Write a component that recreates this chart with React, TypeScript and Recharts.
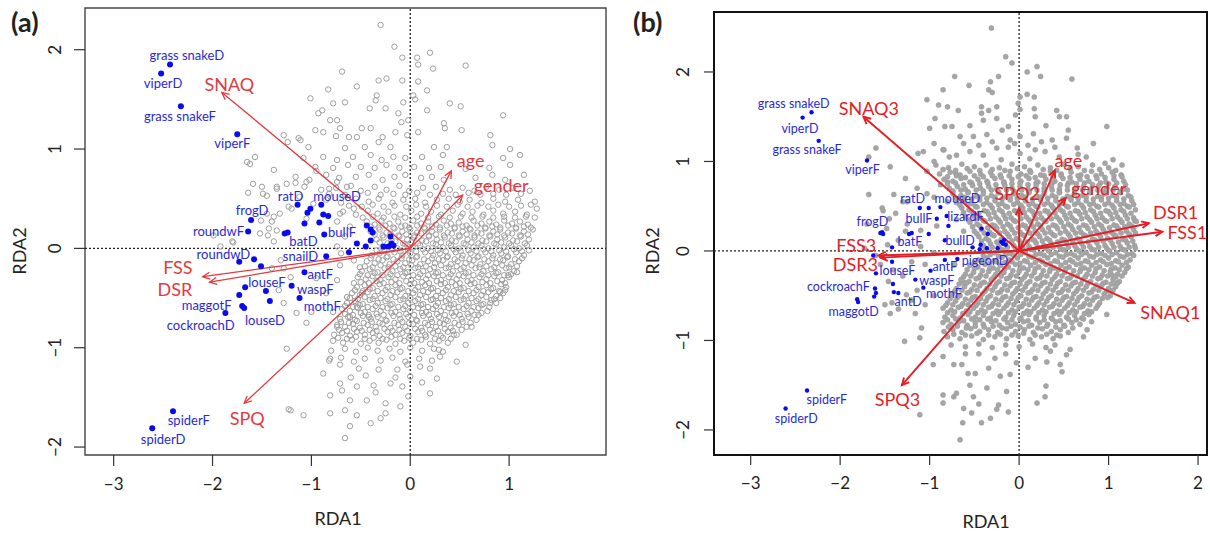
import React from 'react';
import { ScatterChart, Scatter, XAxis, YAxis, ReferenceLine, ReferenceArea } from 'recharts';

const FONT = 'Lato, "Open Sans", sans-serif';

// ---------- shared ----------
const yTicks = [-2, -1, 0, 1, 2];

// ---------- panel (a) ----------
const xTicksA = [-3, -2, -1, 0, 1];

// respondents (grey open circles)
const greyA: [number, number][] = [
  // sparse upper part
  [-0.30,2.25],[-0.16,2.03],[-0.08,1.92],[0.07,1.92],[0.20,1.97],[0.08,1.85],[0.23,1.81],[0.56,1.84],[-0.69,1.78],[-0.54,1.63],
  [-0.32,1.69],[-0.24,1.71],[-0.08,1.69],[0.08,1.68],[-0.83,1.60],[0.17,1.59],[-1.01,1.51],[-0.78,1.46],[-0.66,1.47],[-0.34,1.54],
  [-0.35,1.49],[-0.25,1.41],[-0.41,1.41],[-0.07,1.47],[0.03,1.54],[0.05,1.50],[0.40,1.46],[0.51,1.43],[0.17,1.39],[-0.89,1.39],
  [-0.93,1.36],[0.94,1.34],[-0.12,1.36],[-0.81,1.29],[-0.74,1.29],[-0.09,1.27],[-0.02,1.29],[0.34,1.26],[-0.96,1.19],[-0.88,1.17],
  [-0.71,1.21],[-0.49,1.21],[-0.40,1.21],[-0.28,1.12],[-0.15,1.17],[0.08,1.17],[0.35,1.21],[0.52,1.19],[0.81,1.14],[-0.75,1.13],
  [-0.62,1.12],[-0.54,1.12],[-0.03,1.14],[0.83,1.04],[1.01,1.00],[-1.11,1.09],[-1.03,1.02],[-0.66,1.01],[-0.46,1.02],[-0.32,1.07],
  [-0.20,1.02],[0.24,1.02],[0.37,1.02],
  // left wing
  [-1.24,1.07],[-1.28,1.14],[-1.13,1.11],[-1.57,0.92],[-1.65,0.87],[-1.62,0.85],[-1.38,0.79],[-1.59,0.65],[-1.64,0.56],[-1.49,0.55],
  [-1.45,0.53],[-1.35,0.62],[-1.25,0.65],[-1.16,0.66],[-1.23,0.42],[-1.20,0.40],[-1.51,0.28],[-1.40,0.27],[-1.35,0.18],[-1.44,0.13],
  [-1.92,0.02],[-1.79,0.06],[-1.99,0.13],[-1.50,0.62],[-1.35,0.60],[-1.45,0.35],[-1.38,0.32],[-1.32,0.35],[-1.52,0.15],[-1.43,0.20],
  [-1.80,0.07],[-1.38,0.07],[-1.31,-0.12],[-1.40,-0.20],[-1.28,-0.20],[-1.21,-0.29],[-1.33,-0.42],[-1.28,-0.55],[-1.15,-0.65],[-1.05,-0.75],
  [-1.00,-0.64],[-0.74,0.67],[-0.64,0.62],[-1.05,0.67],[-0.71,0.35],[-0.57,0.40],[-0.74,0.27],[-0.61,0.22],[-0.74,0.02],[-0.57,-0.12],
  [-0.71,-0.17],[-0.51,-0.19],[-0.74,-0.32],[-0.57,-0.35],[-0.64,-0.49],[-0.49,-0.45],[-0.54,-0.59],[-0.78,-0.64],[-0.61,-0.69],[-0.42,-0.69],
  [-0.74,-0.79],[-0.95,0.78],[-1.12,0.52],[-0.98,0.45],[-0.82,0.60],[-1.05,0.30],[-0.66,0.12],[-0.70,-0.05],[-0.95,-0.30],[-0.85,-0.45],
  // middle band
  [-1.08,0.91],[-0.88,0.92],[-0.74,0.89],[-0.58,0.92],[-0.40,0.94],[-0.29,0.89],[-0.17,0.92],[-0.05,0.91],[0.12,0.92],[0.33,0.94],[0.94,0.91],[1.11,0.94],
  [-0.96,0.82],[-0.78,0.81],[-0.63,0.84],[-0.50,0.82],[-0.36,0.81],[-0.24,0.84],[-0.11,0.81],[0.04,0.82],[0.19,0.81],[0.31,0.82],[0.56,0.80],[0.80,0.81],[1.01,0.84],
  [-1.16,0.72],[-1.02,0.69],[-0.85,0.74],[-0.72,0.71],[-0.55,0.72],[-0.42,0.74],[-0.28,0.69],[-0.16,0.72],[-0.05,0.74],[0.11,0.71],[0.22,0.72],[0.34,0.69],[0.66,0.71],[0.83,0.74],[0.96,0.69],[1.15,0.74],
  [-1.07,0.62],[-0.90,0.59],[-0.75,0.61],[-0.60,0.63],[-0.50,0.58],[-0.36,0.62],[-0.24,0.59],[-0.11,0.63],[-0.01,0.58],[0.13,0.61],[0.26,0.62],[0.40,0.59],[0.53,0.61],[0.65,0.58],[0.77,0.62],[0.90,0.59],[1.04,0.61],[1.21,0.58],
  [-0.82,0.55],[-0.66,0.54],[-0.43,0.56],[-0.30,0.54],[-0.17,0.55],[-0.05,0.54],[0.07,0.56],[0.20,0.54],[0.33,0.55],[0.46,0.54],[0.59,0.56],[0.71,0.54],[0.84,0.55],[0.97,0.54],[1.12,0.55],
  [-0.85,0.49],[-0.70,0.46],[-0.55,0.50],[-0.42,0.47],[-0.32,0.50],[-0.18,0.46],[-0.07,0.49],[0.05,0.50],[0.15,0.46],[0.27,0.49],[0.39,0.50],[0.50,0.47],[0.60,0.49],[0.72,0.46],[0.84,0.50],[0.96,0.47],[1.09,0.49],[1.26,0.47],
  [-0.62,0.43],[-0.49,0.42],[-0.38,0.44],[-0.27,0.42],[-0.16,0.43],[-0.04,0.42],[0.06,0.44],[0.16,0.42],[0.27,0.43],[0.37,0.42],[0.48,0.44],[0.58,0.42],[0.68,0.43],[0.79,0.42],[0.89,0.44],[1.00,0.42],[1.12,0.43],[1.22,0.44],
  [-0.68,0.37],[-0.55,0.34],[-0.43,0.38],[-0.33,0.35],[-0.22,0.37],[-0.10,0.34],[0.01,0.38],[0.11,0.35],[0.21,0.37],[0.31,0.34],[0.43,0.38],[0.53,0.35],[0.63,0.37],[0.74,0.34],[0.84,0.38],[0.94,0.35],[1.06,0.37],[1.18,0.34],[1.28,0.40],
  [-0.48,0.31],[-0.38,0.32],[-0.27,0.31],[-0.16,0.32],[-0.05,0.31],[0.07,0.32],[0.18,0.31],[0.29,0.32],[0.40,0.31],[0.51,0.32],[0.62,0.31],[0.73,0.32],[0.84,0.31],[0.95,0.32],[1.06,0.31],[1.17,0.32],[1.26,0.31],
  // dense core
  [-0.44,0.27],[-0.36,0.24],[-0.29,0.28],[-0.21,0.25],[-0.12,0.27],[-0.05,0.23],[0.03,0.28],[0.11,0.25],[0.18,0.27],[0.26,0.24],[0.34,0.28],[0.41,0.25],[0.49,0.26],[0.57,0.23],[0.64,0.28],[0.72,0.25],[0.80,0.27],[0.87,0.24],[0.95,0.28],[1.03,0.25],[1.11,0.27],[1.19,0.24],
  [-0.40,0.22],[-0.32,0.21],[-0.25,0.23],[-0.17,0.21],[-0.09,0.22],[-0.01,0.21],[0.07,0.23],[0.14,0.21],[0.22,0.22],[0.30,0.21],[0.37,0.23],[0.45,0.21],[0.53,0.22],[0.60,0.20],[0.68,0.23],[0.76,0.21],[0.83,0.22],[0.91,0.21],[0.99,0.23],[1.07,0.21],[1.15,0.22],[1.22,0.21],
  [-0.40,0.17],[-0.31,0.19],[-0.24,0.16],[-0.16,0.20],[-0.08,0.17],[0.00,0.19],[0.07,0.16],[0.15,0.20],[0.22,0.17],[0.30,0.19],[0.38,0.16],[0.45,0.20],[0.53,0.17],[0.61,0.19],[0.68,0.16],[0.76,0.20],[0.84,0.17],[0.91,0.19],[0.99,0.16],[1.07,0.20],[1.15,0.17],[1.24,0.19],
  [-0.36,0.14],[-0.28,0.13],[-0.20,0.15],[-0.12,0.13],[-0.04,0.14],[0.04,0.13],[0.11,0.15],[0.19,0.13],[0.26,0.14],[0.34,0.13],[0.42,0.15],[0.49,0.13],[0.57,0.14],[0.65,0.13],[0.72,0.15],[0.80,0.13],[0.88,0.14],[0.95,0.13],[1.03,0.15],[1.11,0.13],[1.19,0.14],
  [-0.34,0.09],[-0.27,0.11],[-0.19,0.08],[-0.11,0.12],[-0.03,0.09],[0.04,0.11],[0.12,0.08],[0.19,0.12],[0.27,0.09],[0.35,0.11],[0.42,0.08],[0.50,0.12],[0.58,0.09],[0.65,0.11],[0.73,0.08],[0.81,0.12],[0.88,0.09],[0.96,0.11],[1.04,0.08],[1.12,0.12],[1.20,0.09],
  [-0.31,0.06],[-0.23,0.05],[-0.15,0.07],[-0.07,0.05],[0.01,0.06],[0.08,0.05],[0.16,0.07],[0.23,0.05],[0.31,0.06],[0.39,0.05],[0.46,0.07],[0.54,0.05],[0.62,0.06],[0.69,0.05],[0.77,0.07],[0.85,0.05],[0.92,0.06],[1.00,0.05],[1.08,0.07],[1.16,0.05],
  [-0.28,0.01],[-0.20,0.03],[-0.13,0.00],[-0.05,0.04],[0.03,0.01],[0.10,0.03],[0.18,0.00],[0.26,0.04],[0.33,0.01],[0.41,0.03],[0.49,0.00],[0.56,0.04],[0.64,0.01],[0.72,0.03],[0.79,0.00],[0.87,0.04],[0.95,0.01],[1.02,0.03],[1.10,0.00],[1.18,0.03],
  [-0.34,-0.02],[-0.26,-0.03],[-0.18,-0.01],[-0.10,-0.03],[-0.02,-0.02],[0.06,-0.03],[0.13,-0.01],[0.21,-0.03],[0.28,-0.02],[0.36,-0.03],[0.44,-0.01],[0.51,-0.03],[0.59,-0.02],[0.67,-0.03],[0.74,-0.01],[0.82,-0.03],[0.90,-0.02],[0.97,-0.03],[1.05,-0.01],[1.13,-0.03],[1.20,-0.02],
  [-0.39,-0.07],[-0.31,-0.05],[-0.23,-0.08],[-0.16,-0.04],[-0.08,-0.07],[0.00,-0.05],[0.07,-0.08],[0.15,-0.04],[0.23,-0.07],[0.30,-0.05],[0.38,-0.08],[0.46,-0.04],[0.53,-0.07],[0.61,-0.05],[0.69,-0.08],[0.76,-0.04],[0.84,-0.07],[0.92,-0.05],[0.99,-0.08],[1.07,-0.04],[1.15,-0.07],
  [-0.40,-0.10],[-0.32,-0.11],[-0.24,-0.09],[-0.17,-0.11],[-0.09,-0.10],[-0.01,-0.11],[0.06,-0.09],[0.14,-0.11],[0.22,-0.10],[0.29,-0.11],[0.37,-0.09],[0.45,-0.11],[0.52,-0.10],[0.60,-0.11],[0.68,-0.09],[0.75,-0.11],[0.83,-0.10],[0.91,-0.11],[0.98,-0.09],[1.06,-0.11],[1.13,-0.10],
  [-0.44,-0.13],[-0.36,-0.15],[-0.28,-0.12],[-0.21,-0.16],[-0.13,-0.13],[-0.05,-0.15],[0.02,-0.12],[0.10,-0.16],[0.18,-0.13],[0.25,-0.15],[0.33,-0.12],[0.41,-0.16],[0.48,-0.13],[0.56,-0.15],[0.64,-0.12],[0.71,-0.16],[0.79,-0.13],[0.87,-0.15],[0.94,-0.12],[1.02,-0.16],[1.10,-0.13],
  [-0.46,-0.18],[-0.38,-0.19],[-0.30,-0.17],[-0.22,-0.19],[-0.15,-0.18],[-0.07,-0.19],[0.01,-0.17],[0.08,-0.19],[0.16,-0.18],[0.24,-0.19],[0.31,-0.17],[0.39,-0.19],[0.47,-0.18],[0.54,-0.19],[0.62,-0.17],[0.70,-0.19],[0.77,-0.18],[0.85,-0.19],[0.93,-0.17],[1.00,-0.19],[1.08,-0.18],
  [-0.49,-0.23],[-0.41,-0.21],[-0.33,-0.24],[-0.26,-0.20],[-0.18,-0.23],[-0.10,-0.21],[-0.03,-0.24],[0.05,-0.20],[0.13,-0.23],[0.20,-0.21],[0.28,-0.24],[0.36,-0.20],[0.43,-0.23],[0.51,-0.21],[0.59,-0.24],[0.66,-0.20],[0.74,-0.23],[0.82,-0.21],[0.89,-0.24],[0.97,-0.20],[1.05,-0.23],
  [-0.51,-0.26],[-0.43,-0.27],[-0.36,-0.25],[-0.28,-0.27],[-0.20,-0.26],[-0.13,-0.27],[-0.05,-0.25],[0.03,-0.27],[0.10,-0.26],[0.18,-0.27],[0.26,-0.25],[0.33,-0.27],[0.41,-0.26],[0.49,-0.27],[0.56,-0.25],[0.64,-0.27],[0.72,-0.26],[0.79,-0.27],[0.87,-0.25],[0.95,-0.27],[1.02,-0.26],
  [-0.53,-0.29],[-0.45,-0.31],[-0.38,-0.28],[-0.30,-0.32],[-0.22,-0.29],[-0.15,-0.31],[-0.07,-0.28],[0.01,-0.32],[0.08,-0.29],[0.16,-0.31],[0.24,-0.28],[0.31,-0.32],[0.39,-0.29],[0.47,-0.31],[0.54,-0.28],[0.62,-0.32],[0.70,-0.29],[0.77,-0.31],[0.85,-0.28],[0.93,-0.32],[1.00,-0.29],
  [-0.50,-0.34],[-0.42,-0.35],[-0.34,-0.33],[-0.27,-0.35],[-0.19,-0.34],[-0.11,-0.35],[-0.04,-0.33],[0.04,-0.35],[0.12,-0.34],[0.19,-0.35],[0.27,-0.33],[0.35,-0.35],[0.42,-0.34],[0.50,-0.35],[0.58,-0.33],[0.65,-0.35],[0.73,-0.34],[0.81,-0.35],[0.88,-0.33],[0.96,-0.35],
  [-0.54,-0.39],[-0.46,-0.37],[-0.38,-0.40],[-0.31,-0.36],[-0.23,-0.39],[-0.15,-0.37],[-0.08,-0.40],[0.00,-0.36],[0.08,-0.39],[0.15,-0.37],[0.23,-0.40],[0.31,-0.36],[0.38,-0.39],[0.46,-0.37],[0.54,-0.40],[0.61,-0.36],[0.69,-0.39],[0.77,-0.37],[0.84,-0.40],[0.92,-0.36],[0.97,-0.39],
  [-0.56,-0.42],[-0.48,-0.43],[-0.41,-0.41],[-0.33,-0.43],[-0.25,-0.42],[-0.18,-0.43],[-0.10,-0.41],[-0.02,-0.43],[0.05,-0.42],[0.13,-0.43],[0.21,-0.41],[0.28,-0.43],[0.36,-0.42],[0.44,-0.43],[0.51,-0.41],[0.59,-0.43],[0.67,-0.42],[0.74,-0.43],[0.82,-0.41],[0.90,-0.43],[0.96,-0.42],
  [-0.59,-0.45],[-0.51,-0.47],[-0.43,-0.44],[-0.36,-0.48],[-0.28,-0.45],[-0.20,-0.47],[-0.13,-0.44],[-0.05,-0.48],[0.03,-0.45],[0.10,-0.47],[0.18,-0.44],[0.26,-0.48],[0.33,-0.45],[0.41,-0.47],[0.49,-0.44],[0.56,-0.48],[0.64,-0.45],[0.72,-0.47],[0.79,-0.44],[0.87,-0.48],[0.94,-0.45],
  [-0.61,-0.50],[-0.53,-0.51],[-0.46,-0.49],[-0.38,-0.51],[-0.30,-0.50],[-0.23,-0.51],[-0.15,-0.49],[-0.07,-0.51],[0.00,-0.50],[0.08,-0.51],[0.16,-0.49],[0.23,-0.51],[0.31,-0.50],[0.39,-0.51],[0.46,-0.49],[0.54,-0.51],[0.62,-0.50],[0.69,-0.51],[0.77,-0.49],[0.85,-0.51],[0.91,-0.50],
  [-0.64,-0.55],[-0.56,-0.53],[-0.48,-0.56],[-0.41,-0.52],[-0.33,-0.55],[-0.25,-0.53],[-0.18,-0.56],[-0.10,-0.52],[-0.02,-0.55],[0.05,-0.53],[0.13,-0.56],[0.21,-0.52],[0.28,-0.55],[0.36,-0.53],[0.44,-0.56],[0.51,-0.52],[0.59,-0.55],[0.67,-0.53],[0.74,-0.56],[0.82,-0.52],[0.87,-0.55],
  [-0.66,-0.58],[-0.58,-0.59],[-0.51,-0.57],[-0.43,-0.59],[-0.35,-0.58],[-0.28,-0.59],[-0.20,-0.57],[-0.12,-0.59],[-0.05,-0.58],[0.03,-0.59],[0.11,-0.57],[0.18,-0.59],[0.26,-0.58],[0.34,-0.59],[0.41,-0.57],[0.49,-0.59],[0.57,-0.58],[0.64,-0.59],[0.72,-0.57],[0.80,-0.59],
  [-0.69,-0.61],[-0.61,-0.63],[-0.53,-0.60],[-0.46,-0.64],[-0.38,-0.61],[-0.30,-0.63],[-0.23,-0.60],[-0.15,-0.64],[-0.07,-0.61],[0.00,-0.63],[0.08,-0.60],[0.16,-0.64],[0.23,-0.61],[0.31,-0.63],[0.39,-0.60],[0.46,-0.64],[0.54,-0.61],[0.62,-0.63],[0.69,-0.60],[0.78,-0.63],
  [-0.66,-0.66],[-0.58,-0.67],[-0.50,-0.65],[-0.42,-0.67],[-0.34,-0.66],[-0.27,-0.67],[-0.19,-0.65],[-0.11,-0.67],[-0.04,-0.66],[0.04,-0.67],[0.12,-0.65],[0.19,-0.67],[0.27,-0.66],[0.35,-0.67],[0.42,-0.65],[0.50,-0.67],[0.58,-0.66],[0.65,-0.67],[0.72,-0.65],
  [-0.71,-0.71],[-0.63,-0.69],[-0.56,-0.72],[-0.48,-0.68],[-0.40,-0.71],[-0.33,-0.69],[-0.25,-0.72],[-0.17,-0.68],[-0.10,-0.71],[-0.02,-0.69],[0.06,-0.72],[0.13,-0.68],[0.21,-0.71],[0.29,-0.69],[0.36,-0.72],[0.44,-0.68],[0.52,-0.71],[0.59,-0.69],[0.67,-0.72],
  [-0.70,-0.74],[-0.62,-0.75],[-0.54,-0.73],[-0.47,-0.75],[-0.39,-0.74],[-0.31,-0.75],[-0.24,-0.73],[-0.16,-0.75],[-0.08,-0.74],[-0.01,-0.75],[0.07,-0.73],[0.15,-0.75],[0.22,-0.74],[0.30,-0.75],[0.38,-0.73],[0.45,-0.75],[0.53,-0.74],[0.61,-0.75],
  [-0.74,-0.77],[-0.66,-0.79],[-0.58,-0.76],[-0.51,-0.80],[-0.43,-0.77],[-0.35,-0.79],[-0.28,-0.76],[-0.20,-0.80],[-0.12,-0.77],[-0.05,-0.79],[0.03,-0.76],[0.11,-0.80],[0.18,-0.77],[0.26,-0.79],[0.34,-0.76],[0.41,-0.80],[0.49,-0.77],[0.57,-0.79],
  [-0.72,-0.82],[-0.64,-0.83],[-0.57,-0.81],[-0.49,-0.83],[-0.41,-0.82],[-0.34,-0.83],[-0.26,-0.81],[-0.18,-0.83],[-0.11,-0.82],[-0.03,-0.83],[0.05,-0.81],[0.12,-0.83],[0.20,-0.82],[0.28,-0.83],[0.35,-0.81],[0.43,-0.83],[0.52,-0.82],
  [-0.77,-0.87],[-0.69,-0.85],[-0.61,-0.88],[-0.54,-0.84],[-0.46,-0.87],[-0.38,-0.85],[-0.31,-0.88],[-0.23,-0.84],[-0.15,-0.87],[-0.08,-0.85],[0.00,-0.88],[0.08,-0.84],[0.15,-0.87],[0.23,-0.85],[0.31,-0.88],[0.38,-0.84],[0.47,-0.87],
  [-0.73,-0.90],[-0.64,-0.91],[-0.55,-0.89],[-0.46,-0.91],[-0.37,-0.90],[-0.28,-0.91],[-0.19,-0.89],[-0.10,-0.91],[-0.01,-0.90],[0.07,-0.91],[0.16,-0.89],[0.25,-0.91],[0.33,-0.90],[0.41,-0.91],
  [-0.78,-0.93],[-0.68,-0.95],[-0.59,-0.92],[-0.50,-0.96],[-0.41,-0.93],[-0.32,-0.95],[-0.24,-0.92],[-0.15,-0.96],[-0.06,-0.93],[0.03,-0.95],[0.11,-0.92],[0.20,-0.96],[0.29,-0.93],[0.38,-0.95],
  [-0.80,-1.03],[-0.66,-1.01],[-0.55,-1.04],[-0.43,-1.00],[-0.33,-1.03],[-0.21,-1.01],[-0.10,-1.04],[0.00,-1.00],[0.12,-1.03],[0.24,-1.01],[0.33,-1.04],
  [-0.82,-1.13],[-0.70,-1.10],[-0.57,-1.14],[-0.46,-1.11],[-0.30,-1.13],[-0.18,-1.10],[-0.05,-1.14],[0.09,-1.11],[0.22,-1.13],[0.30,-1.09],
  // right edge of the core
  [0.99,-0.27],[1.08,-0.24],[0.81,-0.55],[0.62,-0.79],[0.56,-0.97],[0.47,-1.14],[0.44,-0.87],[0.29,-1.02],[0.20,-1.21],[0.91,-0.44],[0.69,-0.67],
  // lower tail
  [-0.81,-1.11],[-0.71,-1.17],[-0.52,-1.21],[-0.32,-1.22],[-0.13,-1.22],[-0.03,-1.17],[0.10,-1.19],[0.27,-1.31],[0.20,-1.46],[-0.08,-1.39],
  [0.00,-1.29],[-0.20,-1.36],[-0.37,-1.38],[-0.54,-1.39],[-0.69,-1.43],[-0.81,-1.48],[-0.61,-1.53],[-0.44,-1.53],[-0.25,-1.56],[-0.10,-1.59],
  [-0.02,-1.49],[-1.08,-1.68],[-0.81,-1.66],[-0.66,-1.63],[-0.54,-1.68],[-0.40,-1.76],[-0.30,-1.71],[-0.25,-1.66],[-0.61,-1.79],[-0.66,-1.91],
  [-1.21,-1.63],[-0.71,-1.36],[-0.88,-1.26],[-1.25,-1.01],[-1.23,-1.62],[-0.45,-1.28],[-0.60,-1.30],[-0.15,-1.30],[0.12,-1.35],[-0.35,-1.45],
];

// object scores (blue dots)
const speciesA: [number, number][] = [
  [-2.43,1.85],[-2.52,1.76],[-2.32,1.43],[-1.75,1.15],
  [-1.14,0.44],[-0.90,0.44],[-1.01,0.40],[-1.04,0.36],[-0.88,0.34],[-0.83,0.325],[-0.92,0.26],[-1.07,0.25],
  [-1.61,0.285],[-1.64,0.17],[-1.27,0.15],[-1.24,0.16],[-0.87,0.14],
  [-0.44,0.23],[-0.40,0.19],[-0.38,0.16],[-0.54,0.05],[-0.45,0.02],[-0.40,0.08],[-0.27,0.02],[-0.20,0.12],[-0.19,0.05],[-0.17,0.03],[-0.22,0.02],[-0.62,-0.04],
  [-0.85,-0.08],[-1.73,-0.135],[-1.58,-0.11],[-1.51,-0.18],
  [-1.07,-0.24],[-1.20,-0.375],[-1.12,-0.50],[-1.46,-0.43],[-1.42,-0.53],
  [-1.67,-0.39],[-1.73,-0.47],[-1.70,-0.58],[-1.68,-0.60],[-1.87,-0.65],
  [-2.40,-1.64],[-2.61,-1.81],
];

const speciesLabelsA: [string, number, number][] = [
  ['grass snakeD', -2.26, 1.95], ['viperD', -2.50, 1.67], ['grass snakeF', -2.33, 1.33], ['viperF', -1.80, 1.06],
  ['ratD', -1.21, 0.53], ['mouseD', -0.74, 0.53], ['frogD', -1.60, 0.385], ['roundwF', -1.94, 0.18],
  ['batD', -1.08, 0.07], ['bullF', -0.69, 0.16], ['roundwD', -1.89, -0.06], ['snailD', -1.11, -0.08],
  ['antF', -0.91, -0.26], ['louseF', -1.45, -0.34], ['waspF', -0.96, -0.405], ['maggotF', -2.06, -0.57],
  ['mothF', -0.89, -0.575], ['louseD', -1.47, -0.72], ['cockroachD', -2.12, -0.77], ['spiderF', -2.24, -1.73],
  ['spiderD', -2.50, -1.92],
];

// explanatory variables: arrow tips
const vectorsA: [string, number, number][] = [
  ['SNAQ', -1.906, 1.57], ['age', 0.415, 0.78], ['gender', 0.53, 0.536],
  ['FSS', -2.10, -0.285], ['DSR', -2.03, -0.34], ['SPQ', -1.68, -1.56],
];
const vectorLabelsA: [string, number, number][] = [
  ['SNAQ', -1.83, 1.65], ['age', 0.61, 0.89], ['gender', 0.92, 0.64],
  ['FSS', -2.35, -0.185], ['DSR', -2.38, -0.405], ['SPQ', -1.65, -1.71],
];

// ---------- panel (b) ----------
const xTicksB = [-3, -2, -1, 0, 1, 2];

const greyB: [number, number][] = [
  // sparse upper part
  [-0.31,2.49],[-0.15,2.17],[-0.08,2.10],[0.09,2.00],[0.20,2.06],[0.24,1.95],[0.59,1.92],[-0.72,1.95],[-0.56,1.85],[-0.32,1.89],
  [-0.23,1.95],[-0.85,1.80],[-1.03,1.69],[-0.34,1.80],[-0.30,1.77],[0.01,1.72],[0.09,1.75],[0.17,1.72],[-0.90,1.63],[-0.80,1.61],
  [-0.68,1.57],[-0.42,1.61],[-0.34,1.57],[-0.25,1.61],[-0.01,1.65],[0.01,1.58],[0.17,1.59],[0.42,1.57],[0.45,1.50],[0.53,1.50],
  [-0.94,1.48],[-0.75,1.39],[-0.42,1.54],[-0.40,1.46],[-0.25,1.48],[-0.12,1.39],[-0.04,1.52],[0.18,1.50],[-1.00,1.37],[-0.83,1.39],
  [-0.66,1.28],[-0.51,1.28],[-0.36,1.30],[-0.19,1.35],[-0.10,1.24],[0.01,1.28],[0.16,1.31],[0.37,1.24],[0.53,1.26],[0.83,1.20],
  [0.98,1.39],[-1.07,1.11],[-0.85,1.13],[-0.70,1.07],[-0.55,1.11],[-0.40,1.07],[-0.25,1.15],[-0.12,1.16],[0.01,1.09],[0.18,1.13],
  [0.29,1.11],[0.96,0.98],[1.05,1.02],[1.15,0.96],[0.45,1.05],[0.66,1.08],[-0.20,1.02],[0.12,1.03],
  [-0.62,1.20],[-0.45,1.18],[-0.30,1.22],[-0.05,1.20],[0.10,1.18],[0.25,1.22],[0.40,1.16],[0.65,1.15],[0.75,1.05],[-0.78,1.05],
  [-0.95,1.20],[0.55,1.35],[0.30,1.40],[-0.55,1.40],
  // left side
  [-1.68,1.05],[-1.60,1.15],[-1.44,0.94],[-1.68,0.63],[-1.38,0.42],[-1.27,0.81],[-1.14,0.70],[-1.03,0.64],[-1.25,0.55],[-1.53,0.48],
  [-1.45,0.36],[-1.40,0.63],[-0.95,1.00],[-0.84,1.13],[-1.13,1.09],[-1.03,0.89],[-0.80,0.77],[-0.71,0.87],[-0.88,0.74],[-1.27,0.22],
  [-1.10,0.23],[-1.73,0.03],[-1.47,0.07],[-1.25,0.30],[-1.35,0.12],[-1.10,0.05],[-0.95,-0.02],[-1.20,-0.12],[-1.05,-0.15],[-0.92,0.28],
  [-1.48,0.25],[-1.55,-0.15],[-1.30,-0.28],[-1.20,-0.55],[-1.05,-0.60],[-0.95,-0.50],[-1.50,-0.60],[-1.35,-0.65],[-0.62,0.22],[-0.70,0.35],
  [-0.62,-0.35],[-0.72,-0.15],[-1.52,0.45],[-1.30,0.55],[-0.95,0.60],[-0.80,0.55],[-1.70,0.30],[-1.60,-0.05],
  // lower tail
  [-0.66,-2.11],[-0.63,-1.92],[-0.42,-1.92],[-0.32,-1.87],[-0.25,-1.77],[-0.12,-1.80],[-0.53,-1.81],[-0.62,-1.76],[-0.73,-1.63],[-0.85,-1.61],
  [-0.85,-1.70],[-0.51,-1.63],[-0.36,-1.53],[-0.45,-1.71],[-0.23,-1.72],[0.20,-1.70],[0.30,-1.51],[0.29,-1.63],[-0.14,-1.57],[-0.55,-1.50],
  [-0.70,-1.59],[-0.57,-1.37],[-0.49,-1.37],[-0.73,-1.27],[-0.64,-1.27],[-0.85,-1.18],[-0.34,-1.31],[-0.21,-1.40],[-0.10,-1.38],[-0.27,-1.20],
  [-0.03,-1.25],[0.18,-1.20],[0.31,-1.24],[0.46,-1.27],[0.48,-1.35],[0.53,-1.16],[0.57,-1.10],[0.76,-0.88],[0.72,-0.96],[0.81,-0.79],
  [0.98,-0.71],[1.09,-0.36],[1.04,-0.27],[-0.96,-1.27],[-1.11,-1.83],[-1.28,-1.01],[-1.11,-0.97],[-1.09,-0.86],[-1.44,-0.70],[-1.16,-0.70],
  [-1.42,-0.58],[-1.26,-0.49],[-1.14,-0.44],[-1.46,-0.34],[-1.41,-0.21],[-0.45,-1.15],[-0.15,-1.15],[0.10,-1.30],[-0.60,-1.15],[0.35,-1.12],
  // core
  [-0.93,0.96],[-0.79,0.93],[-0.64,0.97],[-0.50,0.94],[-0.37,0.96],[-0.22,0.93],[-0.08,0.97],[0.06,0.94],[0.21,0.96],[0.35,0.93],[0.50,0.97],[0.66,0.94],[0.82,0.96],[1.00,0.93],
  [-0.85,0.91],[-0.71,0.90],[-0.58,0.92],[-0.44,0.90],[-0.30,0.91],[-0.16,0.90],[-0.02,0.92],[0.12,0.90],[0.27,0.91],[0.42,0.90],[0.57,0.92],[0.73,0.90],[0.90,0.91],[1.08,0.90],
  [-0.89,0.86],[-0.77,0.88],[-0.66,0.85],[-0.55,0.89],[-0.43,0.86],[-0.32,0.88],[-0.21,0.85],[-0.10,0.89],[0.02,0.86],[0.13,0.88],[0.24,0.85],[0.35,0.89],[0.47,0.86],[0.58,0.88],[0.69,0.85],[0.81,0.89],[0.92,0.86],[1.04,0.88],[1.14,0.85],
  [-0.80,0.83],[-0.70,0.84],[-0.60,0.82],[-0.50,0.84],[-0.40,0.83],[-0.30,0.84],[-0.20,0.82],[-0.11,0.84],[-0.01,0.83],[0.08,0.84],[0.18,0.82],[0.28,0.84],[0.38,0.83],[0.47,0.84],[0.57,0.82],[0.66,0.84],[0.76,0.83],[0.86,0.84],[0.96,0.82],[1.06,0.84],[1.15,0.83],
  [-0.84,0.80],[-0.74,0.78],[-0.65,0.81],[-0.55,0.77],[-0.46,0.80],[-0.36,0.78],[-0.27,0.81],[-0.17,0.77],[-0.08,0.80],[0.02,0.78],[0.11,0.81],[0.21,0.77],[0.30,0.80],[0.40,0.78],[0.49,0.81],[0.59,0.77],[0.68,0.80],[0.78,0.78],[0.87,0.81],[0.97,0.77],[1.06,0.80],[1.17,0.78],
  [-0.80,0.75],[-0.71,0.76],[-0.62,0.74],[-0.53,0.76],[-0.44,0.75],[-0.35,0.76],[-0.26,0.74],[-0.17,0.76],[-0.08,0.75],[0.01,0.76],[0.10,0.74],[0.19,0.76],[0.28,0.75],[0.37,0.76],[0.46,0.74],[0.55,0.76],[0.64,0.75],[0.73,0.76],[0.82,0.74],[0.91,0.76],[1.00,0.75],[1.09,0.76],[1.19,0.74],
  [-0.78,0.70],[-0.69,0.72],[-0.60,0.69],[-0.52,0.73],[-0.43,0.70],[-0.34,0.72],[-0.25,0.69],[-0.16,0.73],[-0.08,0.70],[0.01,0.72],[0.10,0.69],[0.19,0.73],[0.28,0.70],[0.36,0.72],[0.45,0.69],[0.54,0.73],[0.63,0.70],[0.72,0.72],[0.80,0.69],[0.89,0.73],[0.98,0.70],[1.07,0.72],[1.16,0.69],
  [-0.74,0.67],[-0.65,0.68],[-0.57,0.66],[-0.48,0.68],[-0.40,0.67],[-0.31,0.68],[-0.23,0.66],[-0.14,0.68],[-0.06,0.67],[0.03,0.68],[0.11,0.66],[0.20,0.68],[0.28,0.67],[0.37,0.68],[0.45,0.66],[0.54,0.68],[0.62,0.67],[0.71,0.68],[0.79,0.66],[0.88,0.68],[0.96,0.67],[1.05,0.68],[1.13,0.66],[1.21,0.68],
  [-0.74,0.64],[-0.65,0.62],[-0.57,0.65],[-0.48,0.61],[-0.40,0.64],[-0.31,0.62],[-0.23,0.65],[-0.14,0.61],[-0.06,0.64],[0.03,0.62],[0.11,0.65],[0.20,0.61],[0.28,0.64],[0.37,0.62],[0.45,0.65],[0.54,0.61],[0.62,0.64],[0.71,0.62],[0.79,0.65],[0.88,0.61],[0.96,0.64],[1.05,0.62],[1.13,0.65],[1.22,0.62],
  [-0.70,0.59],[-0.61,0.60],[-0.53,0.58],[-0.44,0.60],[-0.36,0.59],[-0.27,0.60],[-0.19,0.58],[-0.10,0.60],[-0.02,0.59],[0.07,0.60],[0.15,0.58],[0.24,0.60],[0.32,0.59],[0.41,0.60],[0.49,0.58],[0.58,0.60],[0.66,0.59],[0.75,0.60],[0.83,0.58],[0.92,0.60],[1.00,0.59],[1.09,0.60],[1.17,0.58],[1.25,0.60],
  [-0.70,0.54],[-0.61,0.56],[-0.53,0.53],[-0.44,0.57],[-0.36,0.54],[-0.27,0.56],[-0.19,0.53],[-0.10,0.57],[-0.02,0.54],[0.07,0.56],[0.15,0.53],[0.24,0.57],[0.32,0.54],[0.41,0.56],[0.49,0.53],[0.58,0.57],[0.66,0.54],[0.75,0.56],[0.83,0.53],[0.92,0.57],[1.00,0.54],[1.09,0.56],[1.17,0.53],[1.26,0.56],
  [-0.66,0.51],[-0.57,0.52],[-0.49,0.50],[-0.40,0.52],[-0.32,0.51],[-0.23,0.52],[-0.15,0.50],[-0.06,0.52],[0.02,0.51],[0.11,0.52],[0.19,0.50],[0.28,0.52],[0.36,0.51],[0.45,0.52],[0.53,0.50],[0.62,0.52],[0.70,0.51],[0.79,0.52],[0.87,0.50],[0.96,0.52],[1.04,0.51],[1.13,0.52],[1.21,0.50],[1.28,0.52],
  [-0.64,0.48],[-0.56,0.46],[-0.47,0.49],[-0.39,0.45],[-0.30,0.48],[-0.22,0.46],[-0.13,0.49],[-0.05,0.45],[0.04,0.48],[0.12,0.46],[0.21,0.49],[0.29,0.45],[0.38,0.48],[0.46,0.46],[0.55,0.49],[0.63,0.45],[0.72,0.48],[0.80,0.46],[0.89,0.49],[0.97,0.45],[1.06,0.48],[1.14,0.46],[1.23,0.49],[1.30,0.46],
  [-0.62,0.43],[-0.53,0.44],[-0.45,0.42],[-0.36,0.44],[-0.28,0.43],[-0.19,0.44],[-0.11,0.42],[-0.02,0.44],[0.06,0.43],[0.15,0.44],[0.23,0.42],[0.32,0.44],[0.40,0.43],[0.49,0.44],[0.57,0.42],[0.66,0.44],[0.74,0.43],[0.83,0.44],[0.91,0.42],[1.00,0.44],[1.08,0.43],[1.17,0.44],[1.25,0.42],
  [-0.60,0.38],[-0.51,0.40],[-0.43,0.37],[-0.34,0.41],[-0.26,0.38],[-0.17,0.40],[-0.09,0.37],[0.00,0.41],[0.08,0.38],[0.17,0.40],[0.25,0.37],[0.34,0.41],[0.42,0.38],[0.51,0.40],[0.59,0.37],[0.68,0.41],[0.76,0.38],[0.85,0.40],[0.93,0.37],[1.02,0.41],[1.10,0.38],[1.19,0.40],[1.28,0.37],
  [-0.57,0.35],[-0.49,0.36],[-0.40,0.34],[-0.32,0.36],[-0.23,0.35],[-0.15,0.36],[-0.06,0.34],[0.02,0.36],[0.11,0.35],[0.19,0.36],[0.28,0.34],[0.36,0.36],[0.45,0.35],[0.53,0.36],[0.62,0.34],[0.70,0.36],[0.79,0.35],[0.87,0.36],[0.96,0.34],[1.04,0.36],[1.13,0.35],[1.21,0.36],[1.29,0.34],
  [-0.55,0.32],[-0.47,0.30],[-0.38,0.33],[-0.30,0.29],[-0.21,0.32],[-0.13,0.30],[-0.04,0.33],[0.04,0.29],[0.13,0.32],[0.21,0.30],[0.30,0.33],[0.38,0.29],[0.47,0.32],[0.55,0.30],[0.64,0.33],[0.72,0.29],[0.81,0.32],[0.89,0.30],[0.98,0.33],[1.06,0.29],[1.15,0.32],[1.23,0.30],[1.31,0.33],
  [-0.52,0.27],[-0.44,0.28],[-0.35,0.26],[-0.27,0.28],[-0.18,0.27],[-0.10,0.28],[-0.01,0.26],[0.07,0.28],[0.16,0.27],[0.24,0.28],[0.33,0.26],[0.41,0.28],[0.50,0.27],[0.58,0.28],[0.67,0.26],[0.75,0.28],[0.84,0.27],[0.92,0.28],[1.01,0.26],[1.09,0.28],[1.18,0.27],[1.26,0.28],
  [-0.50,0.22],[-0.42,0.24],[-0.33,0.21],[-0.25,0.25],[-0.16,0.22],[-0.08,0.24],[0.01,0.21],[0.09,0.25],[0.18,0.22],[0.26,0.24],[0.35,0.21],[0.43,0.25],[0.52,0.22],[0.60,0.24],[0.69,0.21],[0.77,0.25],[0.86,0.22],[0.94,0.24],[1.03,0.21],[1.11,0.25],[1.20,0.22],[1.28,0.24],
  [-0.47,0.19],[-0.39,0.20],[-0.30,0.18],[-0.22,0.20],[-0.13,0.19],[-0.05,0.20],[0.04,0.18],[0.12,0.20],[0.21,0.19],[0.29,0.20],[0.38,0.18],[0.46,0.20],[0.55,0.19],[0.63,0.20],[0.72,0.18],[0.80,0.20],[0.89,0.19],[0.97,0.20],[1.06,0.18],[1.14,0.20],[1.23,0.19],[1.30,0.20],
  [-0.45,0.16],[-0.37,0.14],[-0.28,0.17],[-0.20,0.13],[-0.11,0.16],[-0.03,0.14],[0.06,0.17],[0.14,0.13],[0.23,0.16],[0.31,0.14],[0.40,0.17],[0.48,0.13],[0.57,0.16],[0.65,0.14],[0.74,0.17],[0.82,0.13],[0.91,0.16],[0.99,0.14],[1.08,0.17],[1.16,0.13],[1.25,0.16],
  [-0.42,0.11],[-0.34,0.12],[-0.25,0.10],[-0.17,0.12],[-0.08,0.11],[0.00,0.12],[0.09,0.10],[0.17,0.12],[0.26,0.11],[0.34,0.12],[0.43,0.10],[0.51,0.12],[0.60,0.11],[0.68,0.12],[0.77,0.10],[0.85,0.12],[0.94,0.11],[1.02,0.12],[1.11,0.10],[1.19,0.12],[1.27,0.11],
  [-0.40,0.06],[-0.32,0.08],[-0.23,0.05],[-0.15,0.09],[-0.06,0.06],[0.02,0.08],[0.11,0.05],[0.19,0.09],[0.28,0.06],[0.36,0.08],[0.45,0.05],[0.53,0.09],[0.62,0.06],[0.70,0.08],[0.79,0.05],[0.87,0.09],[0.96,0.06],[1.04,0.08],[1.13,0.05],[1.21,0.09],[1.29,0.06],
  [-0.38,0.03],[-0.30,0.04],[-0.21,0.02],[-0.13,0.04],[-0.04,0.03],[0.04,0.04],[0.13,0.02],[0.21,0.04],[0.30,0.03],[0.38,0.04],[0.47,0.02],[0.55,0.04],[0.64,0.03],[0.72,0.04],[0.81,0.02],[0.89,0.04],[0.98,0.03],[1.06,0.04],[1.15,0.02],[1.23,0.04],[1.30,0.03],
  [-0.35,0.00],[-0.27,-0.02],[-0.18,0.01],[-0.10,-0.03],[-0.01,0.00],[0.07,-0.02],[0.16,0.01],[0.24,-0.03],[0.33,0.00],[0.41,-0.02],[0.50,0.01],[0.58,-0.03],[0.67,0.00],[0.75,-0.02],[0.84,0.01],[0.92,-0.03],[1.01,0.00],[1.09,-0.02],[1.18,0.01],[1.26,-0.03],
  [-0.40,-0.05],[-0.32,-0.04],[-0.23,-0.06],[-0.15,-0.04],[-0.06,-0.05],[0.02,-0.04],[0.11,-0.06],[0.19,-0.04],[0.28,-0.05],[0.36,-0.04],[0.45,-0.06],[0.53,-0.04],[0.62,-0.05],[0.70,-0.04],[0.79,-0.06],[0.87,-0.04],[0.96,-0.05],[1.04,-0.04],[1.13,-0.06],[1.21,-0.04],[1.28,-0.05],
  [-0.45,-0.10],[-0.36,-0.08],[-0.28,-0.11],[-0.19,-0.07],[-0.11,-0.10],[-0.02,-0.08],[0.06,-0.11],[0.15,-0.07],[0.23,-0.10],[0.32,-0.08],[0.40,-0.11],[0.49,-0.07],[0.57,-0.10],[0.66,-0.08],[0.74,-0.11],[0.83,-0.07],[0.91,-0.10],[1.00,-0.08],[1.08,-0.11],[1.17,-0.07],[1.24,-0.10],
  [-0.50,-0.13],[-0.42,-0.12],[-0.33,-0.14],[-0.25,-0.12],[-0.16,-0.13],[-0.08,-0.12],[0.01,-0.14],[0.09,-0.12],[0.18,-0.13],[0.26,-0.12],[0.35,-0.14],[0.43,-0.12],[0.52,-0.13],[0.60,-0.12],[0.69,-0.14],[0.77,-0.12],[0.86,-0.13],[0.94,-0.12],[1.03,-0.14],[1.11,-0.12],[1.20,-0.13],
  [-0.55,-0.16],[-0.46,-0.18],[-0.38,-0.15],[-0.29,-0.19],[-0.21,-0.16],[-0.12,-0.18],[-0.04,-0.15],[0.05,-0.19],[0.13,-0.16],[0.22,-0.18],[0.30,-0.15],[0.39,-0.19],[0.47,-0.16],[0.56,-0.18],[0.64,-0.15],[0.73,-0.19],[0.81,-0.16],[0.90,-0.18],[0.98,-0.15],[1.07,-0.19],[1.15,-0.16],[1.22,-0.18],
  [-0.58,-0.21],[-0.50,-0.20],[-0.41,-0.22],[-0.33,-0.20],[-0.24,-0.21],[-0.16,-0.20],[-0.07,-0.22],[0.01,-0.20],[0.10,-0.21],[0.18,-0.20],[0.27,-0.22],[0.35,-0.20],[0.44,-0.21],[0.52,-0.20],[0.61,-0.22],[0.69,-0.20],[0.78,-0.21],[0.86,-0.20],[0.95,-0.22],[1.03,-0.20],[1.12,-0.21],[1.20,-0.20],
  [-0.60,-0.26],[-0.51,-0.24],[-0.43,-0.27],[-0.34,-0.23],[-0.26,-0.26],[-0.17,-0.24],[-0.09,-0.27],[0.00,-0.23],[0.08,-0.26],[0.17,-0.24],[0.25,-0.27],[0.34,-0.23],[0.42,-0.26],[0.51,-0.24],[0.59,-0.27],[0.68,-0.23],[0.76,-0.26],[0.85,-0.24],[0.93,-0.27],[1.02,-0.23],[1.10,-0.26],[1.18,-0.24],
  [-0.62,-0.29],[-0.54,-0.28],[-0.45,-0.30],[-0.37,-0.28],[-0.28,-0.29],[-0.20,-0.28],[-0.11,-0.30],[-0.03,-0.28],[0.06,-0.29],[0.14,-0.28],[0.23,-0.30],[0.31,-0.28],[0.40,-0.29],[0.48,-0.28],[0.57,-0.30],[0.65,-0.28],[0.74,-0.29],[0.82,-0.28],[0.91,-0.30],[0.99,-0.28],[1.08,-0.29],[1.15,-0.28],
  [-0.65,-0.32],[-0.56,-0.34],[-0.48,-0.31],[-0.39,-0.35],[-0.31,-0.32],[-0.22,-0.34],[-0.14,-0.31],[-0.05,-0.35],[0.03,-0.32],[0.12,-0.34],[0.20,-0.31],[0.29,-0.35],[0.37,-0.32],[0.46,-0.34],[0.54,-0.31],[0.63,-0.35],[0.71,-0.32],[0.80,-0.34],[0.88,-0.31],[0.97,-0.35],[1.05,-0.32],[1.12,-0.34],
  [-0.67,-0.37],[-0.59,-0.36],[-0.50,-0.38],[-0.42,-0.36],[-0.33,-0.37],[-0.25,-0.36],[-0.16,-0.38],[-0.08,-0.36],[0.01,-0.37],[0.09,-0.36],[0.18,-0.38],[0.26,-0.36],[0.35,-0.37],[0.43,-0.36],[0.52,-0.38],[0.60,-0.36],[0.69,-0.37],[0.77,-0.36],[0.86,-0.38],[0.94,-0.36],[1.03,-0.37],[1.10,-0.36],
  [-0.70,-0.42],[-0.61,-0.40],[-0.53,-0.43],[-0.44,-0.39],[-0.36,-0.42],[-0.27,-0.40],[-0.19,-0.43],[-0.10,-0.39],[-0.02,-0.42],[0.07,-0.40],[0.15,-0.43],[0.24,-0.39],[0.32,-0.42],[0.41,-0.40],[0.49,-0.43],[0.58,-0.39],[0.66,-0.42],[0.75,-0.40],[0.83,-0.43],[0.92,-0.39],[1.00,-0.42],[1.08,-0.40],
  [-0.72,-0.45],[-0.64,-0.44],[-0.55,-0.46],[-0.47,-0.44],[-0.38,-0.45],[-0.30,-0.44],[-0.21,-0.46],[-0.13,-0.44],[-0.04,-0.45],[0.04,-0.44],[0.13,-0.46],[0.21,-0.44],[0.30,-0.45],[0.38,-0.44],[0.47,-0.46],[0.55,-0.44],[0.64,-0.45],[0.72,-0.44],[0.81,-0.46],[0.89,-0.44],[0.98,-0.45],[1.05,-0.44],
  [-0.75,-0.48],[-0.66,-0.50],[-0.58,-0.47],[-0.49,-0.51],[-0.41,-0.48],[-0.32,-0.50],[-0.24,-0.47],[-0.15,-0.51],[-0.07,-0.48],[0.02,-0.50],[0.10,-0.47],[0.19,-0.51],[0.27,-0.48],[0.36,-0.50],[0.44,-0.47],[0.53,-0.51],[0.61,-0.48],[0.70,-0.50],[0.78,-0.47],[0.87,-0.51],[0.95,-0.48],[1.02,-0.50],
  [-0.77,-0.53],[-0.69,-0.52],[-0.60,-0.54],[-0.52,-0.52],[-0.43,-0.53],[-0.35,-0.52],[-0.26,-0.54],[-0.18,-0.52],[-0.09,-0.53],[-0.01,-0.52],[0.08,-0.54],[0.16,-0.52],[0.25,-0.53],[0.33,-0.52],[0.42,-0.54],[0.50,-0.52],[0.59,-0.53],[0.67,-0.52],[0.76,-0.54],[0.84,-0.52],[0.93,-0.53],[0.99,-0.52],
  [-0.80,-0.58],[-0.71,-0.56],[-0.63,-0.59],[-0.54,-0.55],[-0.46,-0.58],[-0.37,-0.56],[-0.29,-0.59],[-0.20,-0.55],[-0.12,-0.58],[-0.03,-0.56],[0.05,-0.59],[0.14,-0.55],[0.22,-0.58],[0.31,-0.56],[0.39,-0.59],[0.48,-0.55],[0.56,-0.58],[0.65,-0.56],[0.73,-0.59],[0.82,-0.55],[0.90,-0.58],
  [-0.82,-0.61],[-0.74,-0.60],[-0.65,-0.62],[-0.57,-0.60],[-0.48,-0.61],[-0.40,-0.60],[-0.31,-0.62],[-0.23,-0.60],[-0.14,-0.61],[-0.06,-0.60],[0.03,-0.62],[0.11,-0.60],[0.20,-0.61],[0.28,-0.60],[0.37,-0.62],[0.45,-0.60],[0.54,-0.61],[0.62,-0.60],[0.71,-0.62],[0.79,-0.60],[0.88,-0.61],
  [-0.85,-0.64],[-0.76,-0.66],[-0.68,-0.63],[-0.59,-0.67],[-0.51,-0.64],[-0.42,-0.66],[-0.34,-0.63],[-0.25,-0.67],[-0.17,-0.64],[-0.08,-0.66],[0.00,-0.63],[0.09,-0.67],[0.17,-0.64],[0.26,-0.66],[0.34,-0.63],[0.43,-0.67],[0.51,-0.64],[0.60,-0.66],[0.68,-0.63],[0.77,-0.67],[0.86,-0.64],
  [-0.80,-0.69],[-0.72,-0.68],[-0.63,-0.70],[-0.55,-0.68],[-0.46,-0.69],[-0.38,-0.68],[-0.29,-0.70],[-0.21,-0.68],[-0.12,-0.69],[-0.04,-0.68],[0.05,-0.70],[0.13,-0.68],[0.22,-0.69],[0.30,-0.68],[0.39,-0.70],[0.47,-0.68],[0.56,-0.69],[0.64,-0.68],[0.73,-0.70],[0.81,-0.68],
  [-0.83,-0.74],[-0.74,-0.72],[-0.66,-0.75],[-0.57,-0.71],[-0.49,-0.74],[-0.40,-0.72],[-0.32,-0.75],[-0.23,-0.71],[-0.15,-0.74],[-0.06,-0.72],[0.02,-0.75],[0.11,-0.71],[0.19,-0.74],[0.28,-0.72],[0.36,-0.75],[0.45,-0.71],[0.53,-0.74],[0.62,-0.72],[0.70,-0.75],[0.78,-0.71],
  [-0.80,-0.77],[-0.71,-0.76],[-0.62,-0.78],[-0.53,-0.76],[-0.44,-0.77],[-0.35,-0.76],[-0.26,-0.78],[-0.17,-0.76],[-0.08,-0.77],[0.01,-0.76],[0.10,-0.78],[0.19,-0.76],[0.28,-0.77],[0.37,-0.76],[0.46,-0.78],[0.55,-0.76],[0.64,-0.77],[0.72,-0.76],
  [-0.85,-0.80],[-0.76,-0.82],[-0.67,-0.79],[-0.58,-0.83],[-0.49,-0.80],[-0.40,-0.82],[-0.31,-0.79],[-0.22,-0.83],[-0.13,-0.80],[-0.04,-0.82],[0.05,-0.79],[0.14,-0.83],[0.23,-0.80],[0.32,-0.82],[0.41,-0.79],[0.50,-0.83],[0.59,-0.80],[0.68,-0.82],
  [-0.79,-0.85],[-0.69,-0.84],[-0.59,-0.86],[-0.49,-0.84],[-0.39,-0.85],[-0.29,-0.84],[-0.19,-0.86],[-0.09,-0.84],[0.01,-0.85],[0.11,-0.84],[0.21,-0.86],[0.31,-0.84],[0.41,-0.85],[0.51,-0.84],[0.60,-0.86],
  [-0.84,-0.90],[-0.74,-0.88],[-0.64,-0.91],[-0.54,-0.87],[-0.44,-0.90],[-0.34,-0.88],[-0.24,-0.91],[-0.14,-0.87],[-0.04,-0.90],[0.06,-0.88],[0.16,-0.91],[0.26,-0.87],[0.36,-0.90],[0.46,-0.88],[0.55,-0.91],
  [-0.73,-0.93],[-0.60,-0.94],[-0.47,-0.92],[-0.34,-0.94],[-0.21,-0.93],[-0.08,-0.94],[0.05,-0.92],[0.18,-0.94],[0.31,-0.93],[0.42,-0.94],
  [-0.80,-0.96],[-0.66,-0.98],[-0.53,-0.95],[-0.40,-0.99],[-0.27,-0.96],[-0.14,-0.98],[-0.01,-0.95],[0.12,-0.99],[0.25,-0.96],[0.38,-0.98],[0.46,-0.95],
  [-0.76,-1.05],[-0.60,-1.07],[-0.45,-1.04],[-0.30,-1.08],[-0.15,-1.05],[0.00,-1.07],[0.15,-1.04],[0.30,-1.08],[0.40,-1.05],
];

const speciesB: [number, number][] = [
  [-2.32,1.55],[-2.42,1.49],[-2.24,1.23],[-1.70,1.01],
  [-1.11,0.48],[-1.01,0.48],[-0.88,0.49],[-0.92,0.36],[-0.81,0.39],[-0.79,0.28],
  [-1.55,0.20],[-1.53,0.21],[-1.52,0.19],[-1.23,0.19],[-1.20,0.20],[-1.01,0.19],
  [-0.83,0.12],[-0.52,0.04],[-0.43,0.07],[-0.44,0.02],[-0.42,0.25],[-0.35,0.19],
  [-0.20,0.10],[-0.17,0.12],[-0.15,0.07],[-0.24,0.03],[-0.18,0.08],[-0.36,0.03],
  [-1.42,0.04],[-1.60,-0.25],[-1.63,-0.05],[-1.42,-0.12],[-0.83,-0.10],[-0.69,-0.09],
  [-0.99,-0.22],[-1.16,-0.32],[-1.07,-0.41],
  [-1.61,-0.42],[-1.60,-0.47],[-1.62,-0.51],[-1.81,-0.54],[-1.80,-0.57],
  [-1.41,-0.37],[-1.40,-0.46],[-1.35,-0.47],
  [-2.37,-1.56],[-2.61,-1.76],
];

const speciesLabelsB: [string, number, number][] = [
  ['grass snakeD', -2.52, 1.65], ['viperD', -2.45, 1.37], ['grass snakeF', -2.37, 1.13], ['viperF', -1.75, 0.91],
  ['ratD', -1.19, 0.59], ['mouseD', -0.69, 0.59], ['bullF', -1.12, 0.36], ['lizardF', -0.60, 0.38],
  ['frogD', -1.64, 0.33], ['batF', -1.22, 0.11], ['bullD', -0.66, 0.12], ['louseF', -1.36, -0.22],
  ['pigeonD', -0.38, -0.11], ['antF', -0.83, -0.175], ['waspF', -0.92, -0.33], ['mothF', -0.84, -0.48],
  ['cockroachF', -2.02, -0.40], ['antD', -1.24, -0.57], ['maggotD', -1.85, -0.68], ['spiderF', -2.15, -1.66],
  ['spiderD', -2.49, -1.87],
];

const vectorsB: [string, number, number][] = [
  ['SNAQ3', -1.74, 1.50], ['SPQ2', 0.0, 0.48], ['age', 0.40, 0.90], ['gender', 0.52, 0.59],
  ['DSR1', 1.45, 0.31], ['FSS1', 1.60, 0.215], ['SNAQ1', 1.29, -0.58], ['SPQ3', -1.31, -1.50],
  ['FSS3', -1.57, -0.05], ['DSR3', -1.55, -0.075],
];
const vectorLabelsB: [string, number, number][] = [
  ['SNAQ3', -1.68, 1.60], ['SPQ2', -0.02, 0.65], ['age', 0.55, 1.02], ['gender', 0.89, 0.70],
  ['DSR1', 1.75, 0.44], ['FSS1', 1.88, 0.21], ['SNAQ1', 1.69, -0.68], ['SPQ3', -1.36, -1.65],
  ['FSS3', -1.82, 0.07], ['DSR3', -1.83, -0.15],
];

// ---------- helpers ----------
const pts = (arr: [number, number][]) => arr.map(([x, y]) => ({ x, y }));
const lbl = (arr: [string, number, number][]) => arr.map(([t, x, y]) => ({ t, x, y }));
const fmt = (v: number) => (v < 0 ? '\u2212' + Math.abs(v) : String(v));
const noDot = () => <g />;

// arrow drawn by the scatter "line" renderer, from the origin point to the tip point
const makeArrowLine = (color: string, width: number, head: number) => (lp: any) => {
  const p = lp.points || [];
  if (p.length < 2) return <g />;
  const { x: x1, y: y1 } = p[0];
  const { x: x2, y: y2 } = p[p.length - 1];
  const a = Math.atan2(y2 - y1, x2 - x1);
  const s = Math.PI / 7;
  const h1x = x2 - head * Math.cos(a - s);
  const h1y = y2 - head * Math.sin(a - s);
  const h2x = x2 - head * Math.cos(a + s);
  const h2y = y2 - head * Math.sin(a + s);
  return (
    <g>
      <line x1={x1} y1={y1} x2={x2} y2={y2} stroke={color} strokeWidth={width} />
      <polyline points={`${h1x},${h1y} ${x2},${y2} ${h2x},${h2y}`} fill="none" stroke={color} strokeWidth={width} />
    </g>
  );
};

type PanelProps = {
  width: number;
  marginTop: number;
  yAxisWidth: number;
  marginRight: number;
  xDomain: [number, number];
  yDomain: [number, number];
  xTicks: number[];
  tickLen: number;
  yTickShift: number;
  grey: [number, number][];
  filledGrey: boolean;
  species: [number, number][];
  dotR: number;
  speciesLabels: [string, number, number][];
  labelSize: number;
  vectors: [string, number, number][];
  vectorLabels: [string, number, number][];
  red: string;
  arrowWidth: number;
  boxColor: string;
  boxWidth: number;
};

const Biplot = (pp: PanelProps) => {
  const XTick = (p: any) => (
    <text x={p.x} y={p.y + 22} textAnchor="middle" fontSize={17} fill="#222" fontFamily={FONT}>
      {fmt(p.payload.value)}
    </text>
  );
  const YTick = (p: any) => {
    const bx = p.x - pp.yTickShift;
    return (
      <text x={bx} y={p.y} transform={`rotate(-90 ${bx} ${p.y})`} textAnchor="middle" fontSize={17} fill="#222" fontFamily={FONT}>
        {fmt(p.payload.value)}
      </text>
    );
  };
  const greyShape = (p: any) =>
    pp.filledGrey ? (
      <circle cx={p.cx} cy={p.cy} r={2.5} fill="#a6a6a6" stroke="#999" strokeWidth={0.6} />
    ) : (
      <circle cx={p.cx} cy={p.cy} r={2.7} fill="none" stroke="#9e9e9e" strokeWidth={1} />
    );
  const blueShape = (p: any) => <circle cx={p.cx} cy={p.cy} r={pp.dotR} fill="#0a0af0" />;
  const blueText = (p: any) => (
    <text x={p.cx} y={p.cy} textAnchor="middle" dominantBaseline="central" fontSize={pp.labelSize} fill="#2a2ad4" fontFamily={FONT}>
      {p.payload.t}
    </text>
  );
  const redText = (p: any) => (
    <text x={p.cx} y={p.cy} textAnchor="middle" dominantBaseline="central" fontSize={18} fill={pp.red} fontFamily={FONT}>
      {p.payload.t}
    </text>
  );
  const arrowLine = makeArrowLine(pp.red, pp.arrowWidth, 8);

  return (
    <ScatterChart
      width={pp.width}
      height={533}
      margin={{ top: pp.marginTop, right: pp.marginRight, bottom: 0, left: 0 }}
    >
      <XAxis
        type="number"
        dataKey="x"
        domain={pp.xDomain}
        ticks={pp.xTicks}
        allowDataOverflow
        height={78}
        tickSize={pp.tickLen}
        axisLine={false}
        tickLine={{ stroke: '#333', strokeWidth: 1.2 }}
        tick={<XTick />}
        interval={0}
      />
      <YAxis
        type="number"
        dataKey="y"
        domain={pp.yDomain}
        ticks={yTicks}
        allowDataOverflow
        width={pp.yAxisWidth}
        tickSize={pp.tickLen}
        axisLine={false}
        tickLine={{ stroke: '#333', strokeWidth: 1.2 }}
        tick={<YTick />}
        interval={0}
      />
      <Scatter data={pts(pp.grey)} shape={greyShape} isAnimationActive={false} />
      <ReferenceLine x={0} stroke="#222" strokeWidth={1.3} strokeDasharray="2 2" />
      <ReferenceLine y={0} stroke="#222" strokeWidth={1.3} strokeDasharray="2 2" />
      {pp.vectors.map(([name, x, y]) => (
        <Scatter
          key={name}
          data={[{ x: 0, y: 0 }, { x, y }]}
          line={arrowLine}
          shape={noDot}
          isAnimationActive={false}
        />
      ))}
      <Scatter data={pts(pp.species)} shape={blueShape} isAnimationActive={false} />
      <Scatter data={lbl(pp.speciesLabels)} shape={blueText} isAnimationActive={false} />
      <Scatter data={lbl(pp.vectorLabels)} shape={redText} isAnimationActive={false} />
      <ReferenceArea
        x1={pp.xDomain[0]}
        x2={pp.xDomain[1]}
        y1={pp.yDomain[0]}
        y2={pp.yDomain[1]}
        fill="none"
        fillOpacity={0}
        stroke={pp.boxColor}
        strokeWidth={pp.boxWidth}
        ifOverflow="visible"
      />
    </ScatterChart>
  );
};

const App = () => {
  const title = { fontFamily: FONT, fill: '#222' } as const;
  return (
    <div style={{ position: 'absolute', left: 0, top: 0, width: 1210, height: 533, background: '#fff' }}>
      <div style={{ position: 'absolute', left: 0, top: 0 }}>
        <Biplot
          width={610}
          marginTop={8}
          yAxisWidth={85}
          marginRight={4}
          xDomain={[-3.29, 1.98]}
          yDomain={[-2.08, 2.42]}
          xTicks={xTicksA}
          tickLen={11}
          yTickShift={11}
          grey={greyA}
          filledGrey={false}
          species={speciesA}
          dotR={3}
          speciesLabels={speciesLabelsA}
          labelSize={13}
          vectors={vectorsA}
          vectorLabels={vectorLabelsA}
          red="#e4393e"
          arrowWidth={1.3}
          boxColor="#444"
          boxWidth={1.4}
        />
      </div>
      <div style={{ position: 'absolute', left: 620, top: 0 }}>
        <Biplot
          width={590}
          marginTop={12}
          yAxisWidth={94}
          marginRight={3}
          xDomain={[-3.41, 2.1]}
          yDomain={[-2.28, 2.67]}
          xTicks={xTicksB}
          tickLen={10}
          yTickShift={13}
          grey={greyB}
          filledGrey={true}
          species={speciesB}
          dotR={2.2}
          speciesLabels={speciesLabelsB}
          labelSize={12.5}
          vectors={vectorsB}
          vectorLabels={vectorLabelsB}
          red="#e31e24"
          arrowWidth={1.9}
          boxColor="#111"
          boxWidth={2}
        />
      </div>
      <svg width={1210} height={533} style={{ position: 'absolute', left: 0, top: 0, pointerEvents: 'none' }}>
        <text x={11} y={32} fontSize={27} fontWeight="bold" {...title}>(a)</text>
        <text x={633} y={32} fontSize={27} fontWeight="bold" {...title}>(b)</text>
        <text x={338} y={525} fontSize={18} textAnchor="middle" {...title}>RDA1</text>
        <text x={986} y={528} fontSize={18} textAnchor="middle" {...title}>RDA1</text>
        <text x={26} y={251} fontSize={18} textAnchor="middle" transform="rotate(-90 26 251)" {...title}>RDA2</text>
        <text x={659} y={251} fontSize={18} textAnchor="middle" transform="rotate(-90 659 251)" {...title}>RDA2</text>
      </svg>
    </div>
  );
};

export default App;
